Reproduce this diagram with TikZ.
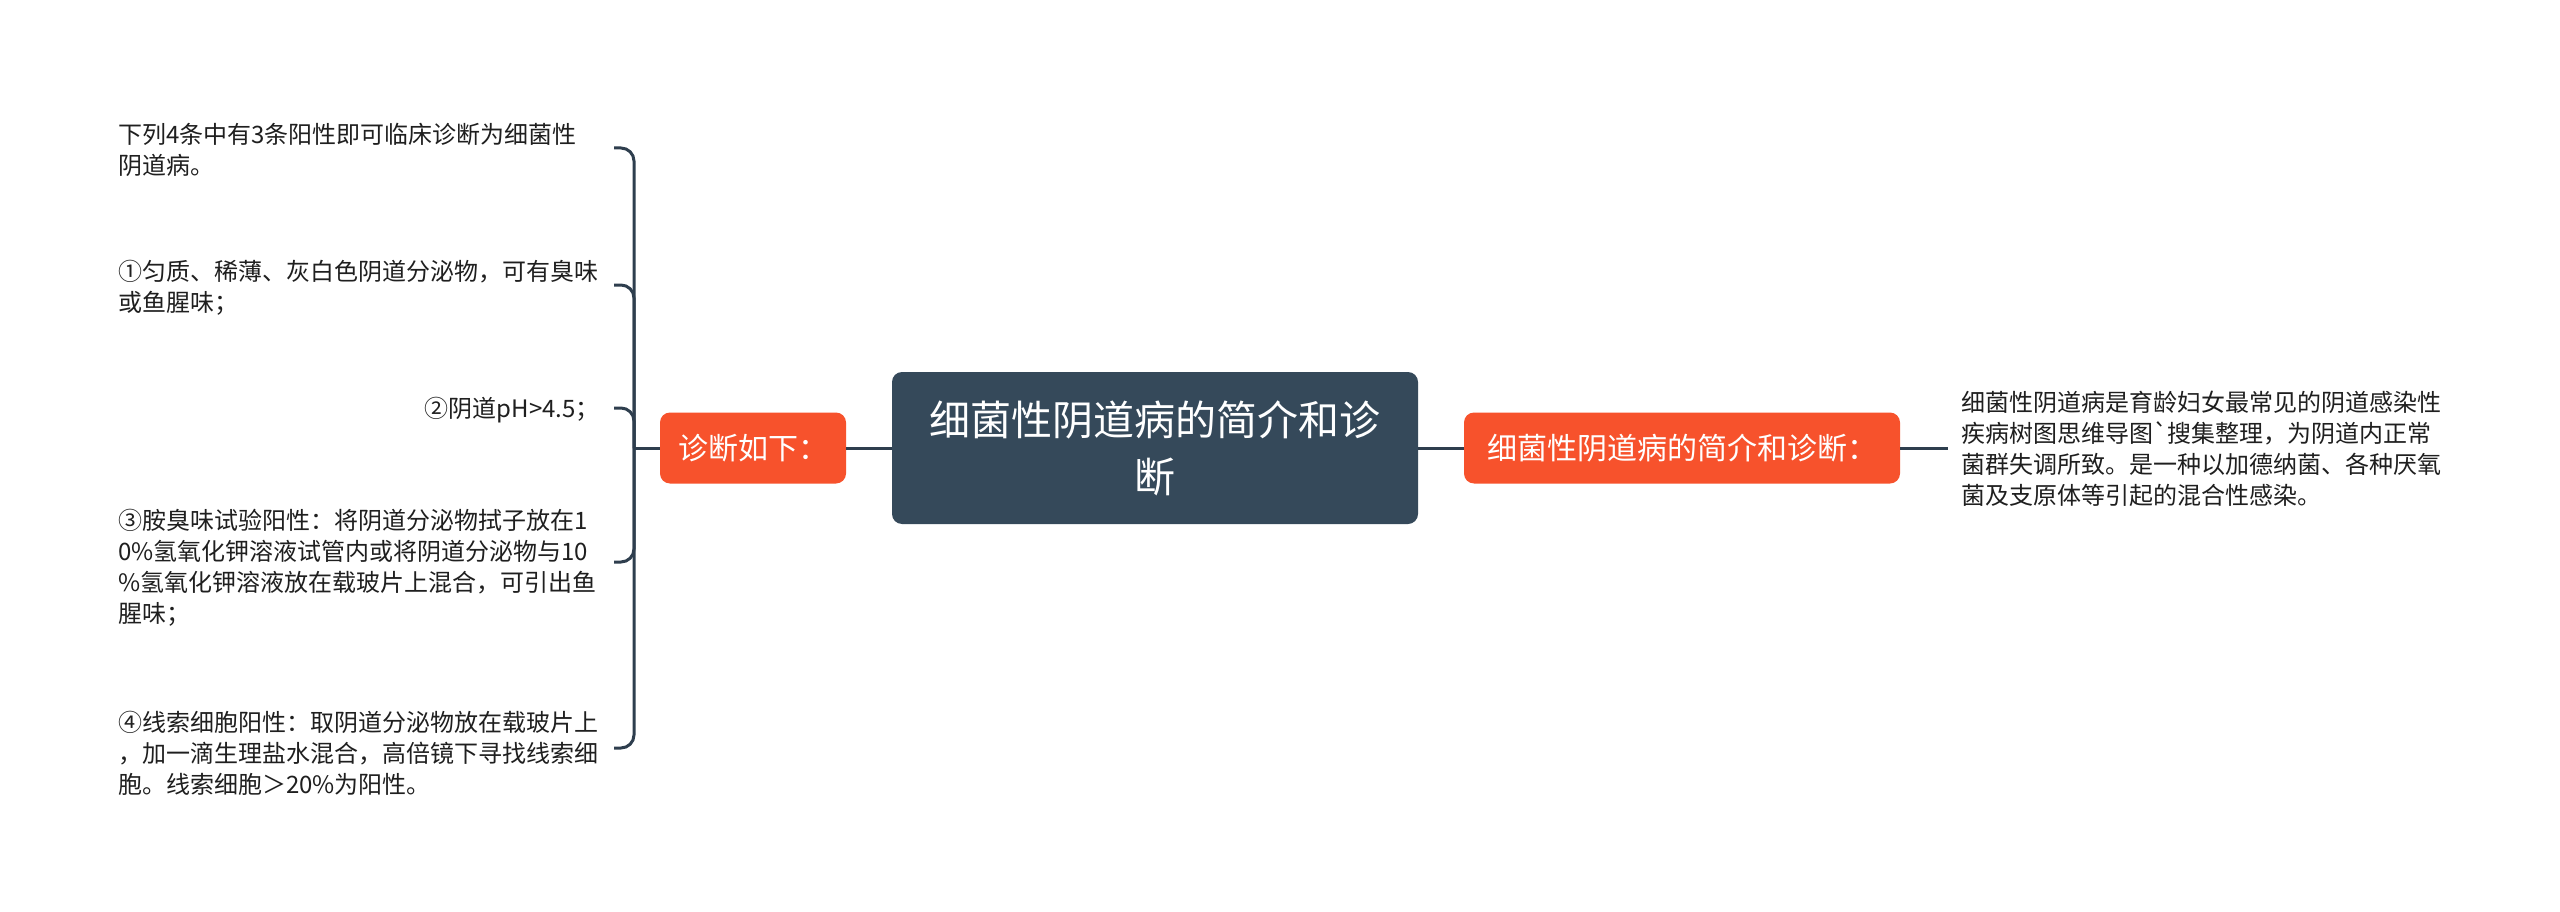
\documentclass[tikz,border=0pt]{standalone}
\usepackage{fontspec}
\setmainfont{Noto Sans CJK SC}
\newfontfamily\plainf{Noto Sans CJK SC}
\definecolor{orng}{HTML}{F7522C}
\definecolor{slate}{HTML}{35495A}
\definecolor{lnc}{HTML}{2E3E4E}
\definecolor{txt}{HTML}{1F1F1F}
\begin{document}
\begin{tikzpicture}[x=1pt,y=-1pt,
  rootbox/.style={fill=slate, rounded corners=10pt, text=white, minimum width=526pt, minimum height=152pt, align=center, font=\fontsize{41}{57}\selectfont, inner sep=0pt},
  subbox/.style={fill=orng, rounded corners=10pt, text=white, minimum height=71pt, inner xsep=0pt, font=\fontsize{30}{36}\selectfont},
  leaf/.style={text=txt, align=left, inner sep=0pt, font=\fontsize{24}{31}\selectfont},
  conn/.style={draw=lnc, line width=3pt},
  tick/.style={draw=lnc, line width=3pt, rounded corners=13pt}]
\useasboundingbox[fill=white] (0,0) rectangle (2560,912);

\node[rootbox] (root) at (1155,448) {细菌性阴道病的简介和诊\\断};
\node[subbox, minimum width=186pt] (diag) at (753,448) {诊断如下：};
\node[subbox, minimum width=436pt] (intro) at (1682,448) {细菌性阴道病的简介和诊断：};

\node[leaf, anchor=west, inner xsep=13pt] (desc) at (1948,449) {细菌性阴道病是育龄妇女最常见的阴道感染性\\疾病树图思维导图{\plainf `}搜集整理，为阴道内正常\\菌群失调所致。是一种以加德纳菌、各种厌氧\\菌及支原体等引起的混合性感染。};

\node[leaf, anchor=west] (i0) at (118,150) {下列4条中有3条阳性即可临床诊断为细菌性\\阴道病。};
\node[leaf, anchor=west] (i1) at (118,288) {①匀质、稀薄、灰白色阴道分泌物，可有臭味\\或鱼腥味；};
\node[leaf, anchor=east] (i2) at (600,410) {②阴道pH>4.5；};
\node[leaf, anchor=west] (i3) at (118,568) {③胺臭味试验阳性：将阴道分泌物拭子放在1\\0\%氢氧化钾溶液试管内或将阴道分泌物与10\\\%氢氧化钾溶液放在载玻片上混合，可引出鱼\\腥味；};
\node[leaf, anchor=west] (i4) at (118,753) {④线索细胞阳性：取阴道分泌物放在载玻片上\\，加一滴生理盐水混合，高倍镜下寻找线索细\\胞。线索细胞＞20\%为阳性。};

\coordinate (hub) at (634,448);
\coordinate (t0) at (614,148);
\coordinate (t1) at (614,285);
\coordinate (t2) at (614,408);
\coordinate (t3) at (614,562);
\coordinate (t4) at (614,748);

\draw[conn] (root.east) -- (intro.west);
\draw[conn] (intro.east) -- (intro.east -| desc.west);
\draw[conn] (diag.east) -- (root.west);
\draw[conn] (diag.west) -- (hub);
\foreach \t in {t0,t1,t2,t3,t4} {\draw[tick] (hub) |- (\t);}
\end{tikzpicture}
\end{document}
